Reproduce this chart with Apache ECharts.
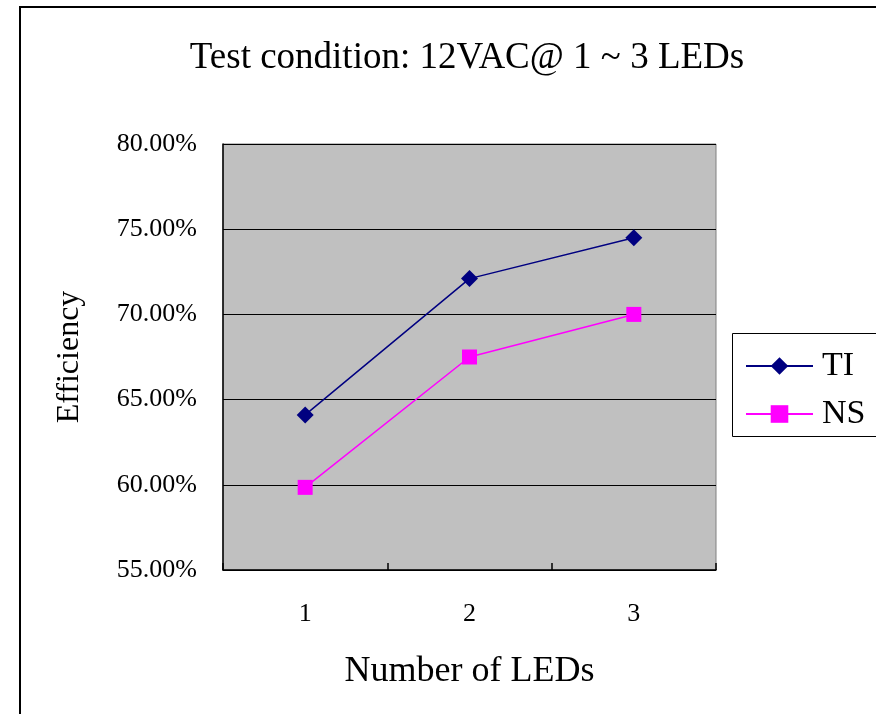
<!DOCTYPE html>
<html><head><meta charset="utf-8">
<script src="https://cdn.jsdelivr.net/npm/echarts@6/dist/echarts.min.js"></script>
<style>html,body{margin:0;padding:0;background:#fff}#c{width:876px;height:714px}</style>
</head><body><div id="c"></div>
<script>
const categories = ['1', '2', '3'];
const tiValues = [64.1, 72.1, 74.5];
const nsValues = [59.85, 67.5, 70.0];
const yTicks = [55, 60, 65, 70, 75, 80];

const serif = '"Liberation Serif", "DejaVu Serif", serif';
const chart = echarts.init(document.getElementById('c'));
chart.setOption({
  backgroundColor: '#fff',
  animation: false,
  title: {
    text: 'Test condition: 12VAC@ 1 ~ 3 LEDs',
    left: 462, top: 35, textAlign: 'center',
    textStyle: { fontFamily: serif, fontSize: 37, fontWeight: 'normal', color: '#000' }
  },
  graphic: [
    { type: 'rect', shape: { x: 20, y: 7, width: 1000, height: 1000 },
      style: { fill: 'none', stroke: '#000', lineWidth: 2 }, z: 100 },
    { type: 'rect', shape: { x: 732.5, y: 333.5, width: 200, height: 103 },
      style: { fill: '#fff', stroke: '#000', lineWidth: 1 }, z: 1 }
  ],
  legend: {
    orient: 'vertical', left: 740, top: 344,
    itemWidth: 67, itemHeight: 22, itemGap: 14,
    textStyle: { fontFamily: serif, fontSize: 34, color: '#000', padding: [0, 0, 0, 4] },
    data: ['TI', 'NS'], z: 10
  },
  grid: {
    left: 223, right: 160, top: 144, bottom: 144,
    show: true, backgroundColor: '#C0C0C0', borderColor: '#808080', borderWidth: 1
  },
  xAxis: {
    type: 'category', data: categories, boundaryGap: true,
    name: 'Number of LEDs', nameLocation: 'middle', nameGap: 84,
    nameTextStyle: { fontFamily: serif, fontSize: 36, color: '#000' },
    axisLine: { lineStyle: { color: '#000', width: 1.5 } },
    axisTick: { show: true, inside: true, length: 7, lineStyle: { color: '#000', width: 1.5 } },
    axisLabel: { fontFamily: serif, fontSize: 26, color: '#000', margin: 31 },
    splitLine: { show: false }
  },
  yAxis: {
    type: 'value', min: yTicks[0], max: yTicks[yTicks.length - 1], interval: 5,
    name: 'Efficiency', nameLocation: 'middle', nameGap: 137, nameRotate: 90,
    nameTextStyle: { fontFamily: serif, fontSize: 32, color: '#000' },
    axisLine: { show: true, lineStyle: { color: '#000', width: 1.5 } },
    axisTick: { show: true, inside: true, length: 10, lineStyle: { color: '#000' } },
    axisLabel: { fontFamily: serif, fontSize: 26, color: '#000', margin: 26,
      formatter: v => v.toFixed(2) + '%' },
    splitLine: { show: true, lineStyle: { color: '#000', width: 1 } }
  },
  series: [
    { name: 'TI', type: 'line', data: tiValues, symbol: 'diamond', symbolSize: 17,
      itemStyle: { color: '#000080' }, lineStyle: { color: '#000080', width: 1.5 } },
    { name: 'NS', type: 'line', data: nsValues, symbol: 'rect', symbolSize: 15,
      itemStyle: { color: '#FF00FF' }, lineStyle: { color: '#FF00FF', width: 1.5 } }
  ]
});
</script></body></html>
